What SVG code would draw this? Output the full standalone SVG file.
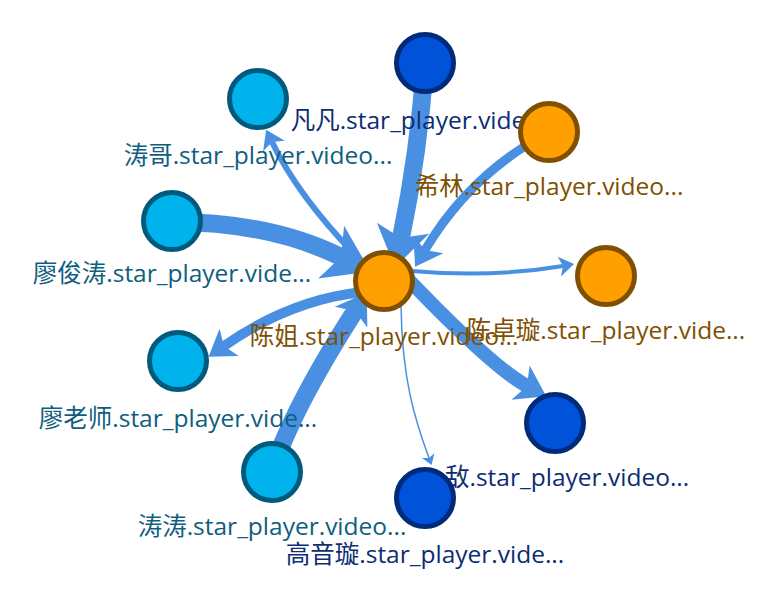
<svg xmlns="http://www.w3.org/2000/svg" xmlns:xlink="http://www.w3.org/1999/xlink" width="778" height="600" viewBox="0 0 778 600">
<style>
.e{fill:none;stroke:#4a90e2;stroke-linecap:butt}
.ah{fill:#4a90e2}
circle{stroke-width:5}
.cy{fill:#00b3ec;stroke:#005a7d}
.db{fill:#0052d9;stroke:#002b7a}
.or{fill:#ffa000;stroke:#7f5000}
text{font-family:"Open Sans","Noto Sans CJK SC",sans-serif;font-size:24.5px;text-anchor:middle}
.tcy{fill:#0f5e7e}
.tdb{fill:#0c2d72}
.tor{fill:#7f5000}
</style>
<defs>
<path id="arrow" d="M0,0 L-1,-0.667 L-0.75,0 L-1,0.667 Z"/>
</defs>
<rect width="778" height="600" fill="#ffffff"/>
<g id="connectors">
<path class="e" stroke-width="18" d="M425,63 Q419,151 401,238"/>
<use href="#arrow" class="ah" transform="translate(394.9,267.4) rotate(101.7) scale(40)"/>
<path class="e" stroke-width="6" d="M365,265 Q300,200 272,142"/>
<use href="#arrow" class="ah" transform="translate(266.1,129.8) rotate(-115.8) scale(18)"/>
<path class="e" stroke-width="18" d="M172,222 Q270,222 341,257"/>
<use href="#arrow" class="ah" transform="translate(370.6,271.6) rotate(26.2) scale(44)"/>
<path class="e" stroke-width="9" d="M549,132 Q470,174 425,250"/>
<use href="#arrow" class="ah" transform="translate(415.1,266.8) rotate(120.6) scale(26)"/>
<path class="e" stroke-width="4" d="M412,271 Q492,278 563,266"/>
<use href="#arrow" class="ah" transform="translate(574.1,264.1) rotate(-9.5) scale(15)"/>
<path class="e" stroke-width="10" d="M362,292 Q290,300 224,346"/>
<use href="#arrow" class="ah" transform="translate(208.6,356.7) rotate(145.1) scale(25)"/>
<path class="e" stroke-width="18" d="M272,472 Q291,411 355,311"/>
<use href="#arrow" class="ah" transform="translate(366.7,292.7) rotate(-57.4) scale(29)"/>
<path class="e" stroke-width="1.5" d="M401,305 C402,380 415,420 429,458"/>
<use href="#arrow" class="ah" transform="translate(431.6,465) rotate(69.8) scale(10)"/>
<path class="e" stroke-width="14" d="M405,276 Q493,368 527,386"/>
<use href="#arrow" class="ah" transform="translate(546.2,396.2) rotate(27.9) scale(29)"/>
</g>
<g id="node-chenjie">
<circle class="or" cx="384" cy="281" r="28.5"/>
<text class="tor" x="384" y="345">陈姐.star_player.video...</text>
</g>
<g id="node-fanfan">
<circle class="db" cx="425" cy="63" r="28.5"/>
<text class="tdb" x="425" y="129">凡凡.star_player.video...</text>
</g>
<g id="node-taoge">
<circle class="cy" cx="258" cy="99" r="28.5"/>
<text class="tcy" x="258" y="164">涛哥.star_player.video...</text>
</g>
<g id="node-xilin">
<circle class="or" cx="549" cy="132" r="28.5"/>
<text class="tor" x="549" y="195">希林.star_player.video...</text>
</g>
<g id="node-liaojuntao">
<circle class="cy" cx="172" cy="221" r="28.5"/>
<text class="tcy" x="172" y="282">廖俊涛.star_player.vide...</text>
</g>
<g id="node-chenzhuoxuan">
<circle class="or" cx="606" cy="276" r="28.5"/>
<text class="tor" x="606" y="339">陈卓璇.star_player.vide...</text>
</g>
<g id="node-liaolaoshi">
<circle class="cy" cx="178" cy="361" r="28.5"/>
<text class="tcy" x="178" y="427">廖老师.star_player.vide...</text>
</g>
<g id="node-taotao">
<circle class="cy" cx="272" cy="472" r="28.5"/>
<text class="tcy" x="272" y="535">涛涛.star_player.video...</text>
</g>
<g id="node-di">
<circle class="db" cx="555" cy="423" r="28.5"/>
<text class="tdb" x="445" y="486" style="text-anchor:start">敌.star_player.video...</text>
</g>
<g id="node-gaoyinxuan">
<circle class="db" cx="425" cy="498" r="28.5"/>
<text class="tdb" x="425" y="563">高音璇.star_player.vide...</text>
</g>
</svg>
